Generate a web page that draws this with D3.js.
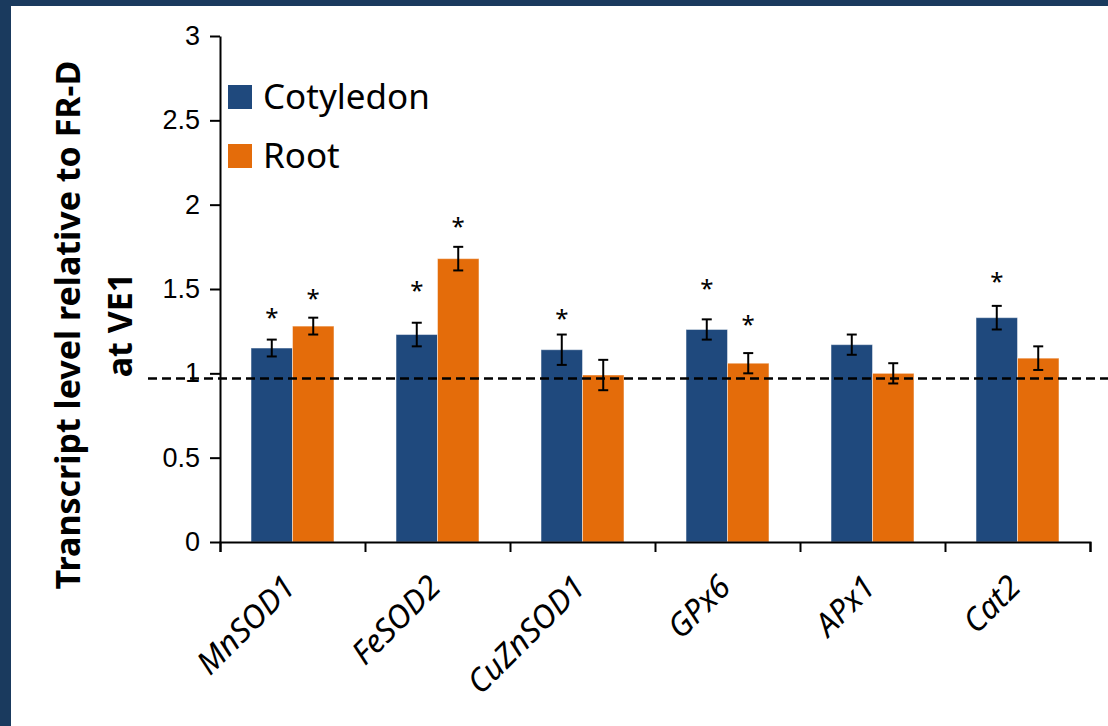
<!DOCTYPE html>
<html>
<head>
<meta charset="utf-8">
<script src="https://cdn.jsdelivr.net/npm/d3@7"></script>
<style>
  body { margin: 0; background: #fff; }
  svg { display: block; font-family: "Noto Sans", sans-serif; }
  .axis path, .axis line { stroke: #000; stroke-width: 2; }
  .axis text { font-size: 27px; fill: #000; }
</style>
</head>
<body>
<div id="chart"></div>
<script>
// values
const genes = ["MnSOD1", "FeSOD2", "CuZnSOD1", "GPx6", "APx1", "Cat2"];
const seriesNames = ["Cotyledon", "Root"];
const cotyledon = [1.15, 1.23, 1.14, 1.26, 1.17, 1.33];
const cotyledonErr = [0.05, 0.07, 0.09, 0.06, 0.06, 0.07];
const root = [1.28, 1.68, 0.99, 1.06, 1.00, 1.09];
const rootErr = [0.05, 0.07, 0.09, 0.06, 0.06, 0.07];
// star heights (value units), null = no star
const cotyledonStar = [1.37, 1.53, 1.36, 1.54, null, 1.58];
const rootStar = [1.48, 1.91, null, 1.33, null, null];
const yTicks = [0, 0.5, 1, 1.5, 2, 2.5, 3];
const refLevel = 0.97;
const colors = ["#1f497d", "#e46c0a"];

const W = 1108, H = 726;
const margin = { top: 36, bottom: 184, left: 220, right: 18 };
const width = W - margin.left - margin.right;
const height = H - margin.top - margin.bottom;

const svg = d3.select("#chart").append("svg")
    .attr("width", W)
    .attr("height", H);

// dark frame on top and left
svg.append("rect").attr("x", 0).attr("y", 0).attr("width", W).attr("height", 6).attr("fill", "#1a3a5e");
svg.append("rect").attr("x", 0).attr("y", 0).attr("width", 11).attr("height", H).attr("fill", "#1a3a5e");

const canvas = svg.append("g")
    .attr("transform", `translate(${margin.left},${margin.top})`);

const yScale = d3.scaleLinear().domain([0, 3]).range([height, 0]);
const x0 = d3.scaleBand().domain(genes).range([0, width])
    .paddingInner(0.428).paddingOuter(0.214);
const x1 = d3.scaleBand().domain(seriesNames).range([0, x0.bandwidth()]);
const xEdge = d3.scaleLinear().domain([0, genes.length]).range([0, width]);

const rows = genes.map(function (g, i) {
    return [
        { gene: g, s: seriesNames[0], v: cotyledon[i], e: cotyledonErr[i], star: cotyledonStar[i], c: colors[0] },
        { gene: g, s: seriesNames[1], v: root[i], e: rootErr[i], star: rootStar[i], c: colors[1] }
    ];
}).flat();

// bars
canvas.append("g").selectAll("rect")
    .data(rows)
    .enter().append("rect")
    .attr("x", d => x0(d.gene) + x1(d.s))
    .attr("y", d => yScale(d.v))
    .attr("width", x1.bandwidth())
    .attr("height", d => yScale(0) - yScale(d.v))
    .attr("fill", d => d.c)
    .attr("stroke", "rgba(255,255,255,0.45)")
    .attr("stroke-width", 1);

// error bars
const eb = canvas.append("g").attr("stroke", "#000").attr("stroke-width", 2);
rows.forEach(function (d) {
    const cx = x0(d.gene) + x1(d.s) + x1.bandwidth() / 2;
    eb.append("line").attr("x1", cx).attr("x2", cx).attr("y1", yScale(d.v + d.e)).attr("y2", yScale(d.v - d.e));
    eb.append("line").attr("x1", cx - 5).attr("x2", cx + 5).attr("y1", yScale(d.v + d.e)).attr("y2", yScale(d.v + d.e));
    eb.append("line").attr("x1", cx - 5).attr("x2", cx + 5).attr("y1", yScale(d.v - d.e)).attr("y2", yScale(d.v - d.e));
});

// significance stars
canvas.append("g").selectAll("text")
    .data(rows.filter(d => d.star !== null))
    .enter().append("text")
    .attr("x", d => x0(d.gene) + x1(d.s) + x1.bandwidth() / 2)
    .attr("y", d => yScale(d.star))
    .attr("dy", "0.62em")
    .attr("text-anchor", "middle")
    .style("font-size", "24px")
    .text("*");

// axes
canvas.append("g")
    .attr("class", "axis")
    .call(d3.axisLeft(yScale).tickValues(yTicks).tickFormat(d3.format("~g"))
        .tickSizeInner(10).tickSizeOuter(0).tickPadding(10));

canvas.append("g")
    .attr("class", "axis")
    .attr("transform", `translate(0,${height})`)
    .call(d3.axisBottom(xEdge).ticks(genes.length).tickFormat("")
        .tickSizeInner(10).tickSizeOuter(10));

// rotated italic gene names
canvas.append("g").selectAll("text")
    .data(genes)
    .enter().append("text")
    .attr("transform", d => `translate(${x0(d) + x0.bandwidth() / 2 + 5},${height + 47}) rotate(-45)`)
    .attr("text-anchor", "end")
    .style("font-size", "32px")
    .style("font-style", "italic")
    .text(d => d);

// dashed reference line
svg.append("line")
    .attr("x1", 148).attr("x2", W)
    .attr("y1", margin.top + yScale(refLevel)).attr("y2", margin.top + yScale(refLevel))
    .attr("stroke", "#000").attr("stroke-width", 2.5)
    .attr("stroke-dasharray", "9,5");

// y axis title
const title = svg.append("text")
    .attr("transform", `translate(80,${margin.top + height / 2 + 36}) rotate(-90)`)
    .attr("text-anchor", "middle")
    .style("font-size", "34px")
    .style("font-weight", "bold");
title.append("tspan").attr("x", 0).attr("y", 0).text("Transcript level relative to FR-D");
title.append("tspan").attr("x", 0).attr("y", 0).attr("dy", 52).text("at VE1");

// legend
const legend = svg.append("g").selectAll("g")
    .data(seriesNames)
    .enter().append("g")
    .attr("transform", (d, i) => `translate(228,${85 + 59 * i})`);
legend.append("rect").attr("width", 24).attr("height", 24).attr("fill", (d, i) => colors[i]);
legend.append("text").attr("x", 35).attr("y", 24)
    .style("font-size", "35px")
    .text(d => d);
</script>
</body>
</html>
